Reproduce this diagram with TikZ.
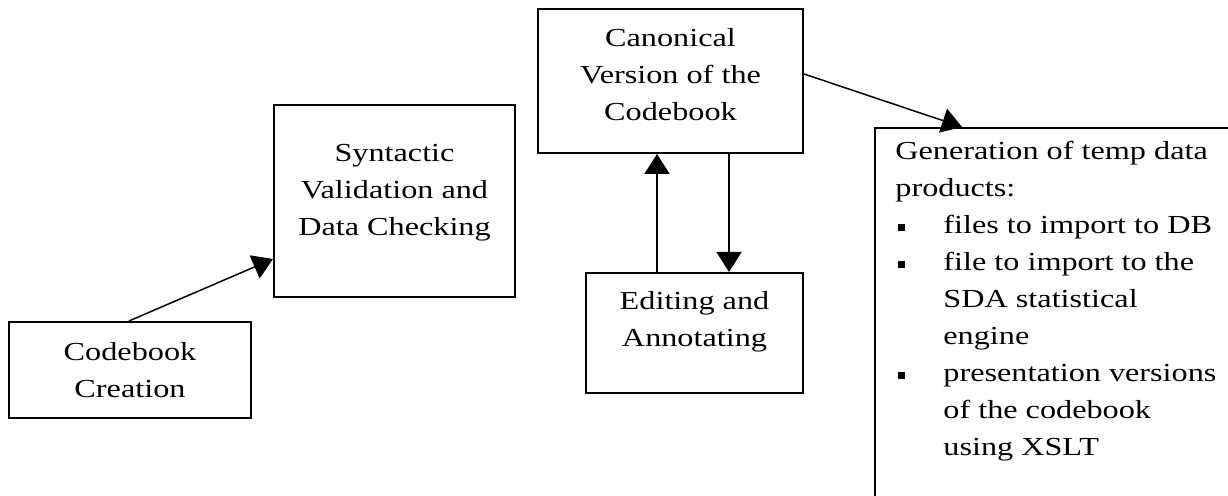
\documentclass[tikz,border=0pt]{standalone}
\usepackage{fontspec}
\setmainfont{Liberation Serif}[FakeStretch=1.24]
\usetikzlibrary{arrows.meta,calc}
\newcommand{\gbul}{\makebox[24pt][l]{\hspace{1.5pt}\rule[1.5pt]{3.5pt}{3.5pt}}}
\newcommand{\gind}{\hspace*{24pt}}
\begin{document}
\begin{tikzpicture}[x=0.5pt,y=-0.5pt,
 box/.style={draw,line width=1pt,rectangle,inner sep=0pt},
 lbl/.style={align=center,inner sep=0pt,font=\fontsize{13pt}{18.5pt}\selectfont},
 gtxt/.style={align=left,inner sep=0pt,font=\fontsize{13pt}{18.5pt}\selectfont},
 arr/.style={line width=0.75pt,-{Triangle[length=10pt,width=12.5pt]}}]
\useasboundingbox (0,0) rectangle (1228,496);
\clip (0,0) rectangle (1228,496);
\fill[white] (0,0) rectangle (1228,496);
% boxes
\node[box,minimum width=121pt,minimum height=48pt] (cc) at (130,370) {};
\node[box,minimum width=120.5pt,minimum height=96pt] (syn) at (394.5,201) {};
\node[box,minimum width=132.5pt,minimum height=72pt] (can) at (670.5,81) {};
\node[box,minimum width=108.5pt,minimum height=60pt] (ed) at (694.5,333) {};
\node[box,minimum width=185pt,minimum height=193.5pt] (gen) at (1060,321.5) {};
% texts
\node[lbl] (cct) at (130,370) {Codebook\\Creation};
\node[lbl] (synt) at (394.5,193) {Syntactic\\Validation and\\Data Checking};
\node[lbl] (cant) at (670.5,75) {Canonical\\Version of the\\Codebook};
\node[lbl] (edt) at (694.5,322) {Editing and\\Annotating};
\node[gtxt,anchor=north west] (gt) at (895,141) {Generation of temp data\\products:\\\gbul files to import to DB\\\gbul file to import to the\\\gind SDA statistical\\\gind engine\\\gbul presentation versions\\\gind of the codebook\\\gind using XSLT};
% connectors
\draw[arr] ($(cc.north west)+(121,0)$) -- ($(syn.south west)+(0,-39)$);
\draw[arr] ($(ed.north west)+(72,0)$) -- ($(can.south west)+(120,0)$);
\draw[arr] ($(can.south west)+(192,0)$) -- ($(ed.north west)+(144,0)$);
\draw[arr] ($(can.north east)+(0,66)$) -- ($(gen.north west)+(88,0)$);
\end{tikzpicture}
\end{document}
